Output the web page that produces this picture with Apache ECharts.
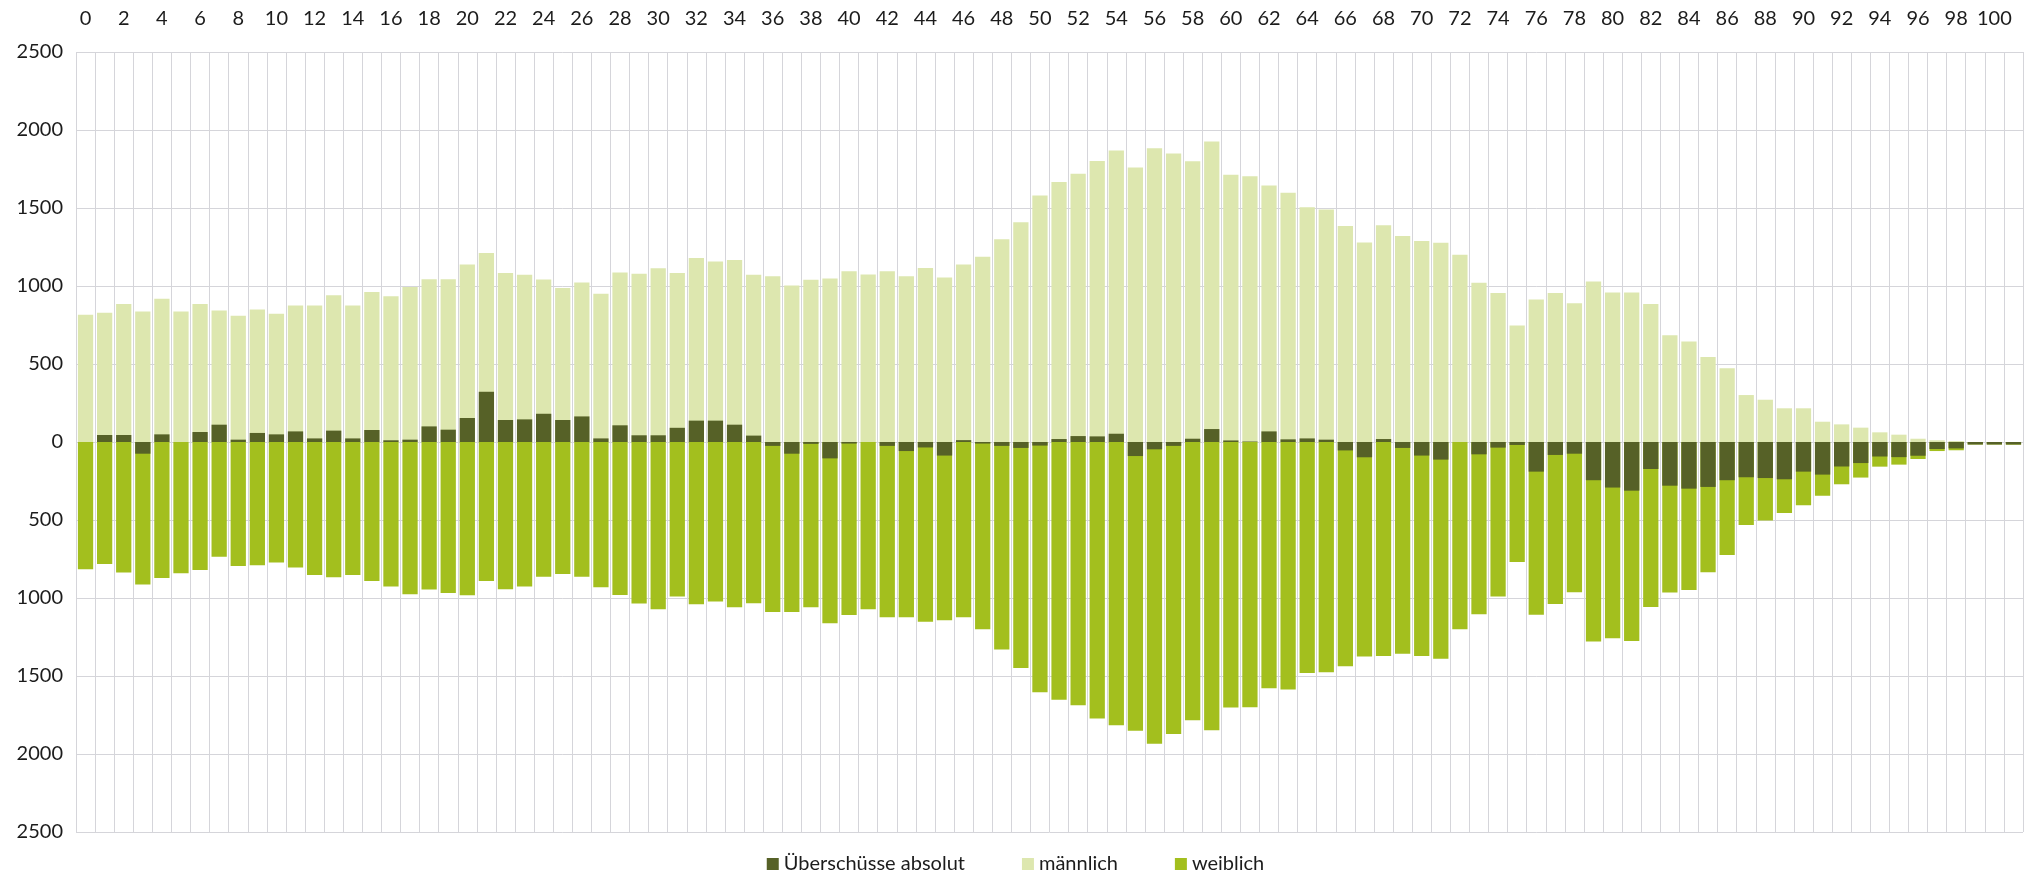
<!DOCTYPE html>
<html>
<head>
<meta charset="utf-8">
<script src="https://cdn.jsdelivr.net/npm/echarts@6/dist/echarts.min.js"></script>
<style>
html,body{margin:0;padding:0;background:#fff;}
#chart{width:2031px;height:874px;}
</style>
</head>
<body>
<div id="chart"></div>
<script>
// Ages 0..101 (labels shown on even ages)
const categories = ["0","1","2","3","4","5","6","7","8","9","10","11","12","13","14","15","16","17","18","19","20","21","22","23","24","25","26","27","28","29","30","31","32","33","34","35","36","37","38","39","40","41","42","43","44","45","46","47","48","49","50","51","52","53","54","55","56","57","58","59","60","61","62","63","64","65","66","67","68","69","70","71","72","73","74","75","76","77","78","79","80","81","82","83","84","85","86","87","88","89","90","91","92","93","94","95","96","97","98","99","100","101"];

const maennlich = [816,829,884,837,918,837,884,843,809,850,822,875,875,940,875,961,935,993,1044,1044,1138,1211,1083,1072,1042,987,1023,950,1087,1078,1113,1083,1179,1157,1166,1072,1063,1004,1040,1048,1095,1074,1095,1063,1115,1055,1138,1187,1300,1409,1580,1666,1719,1802,1868,1760,1883,1849,1800,1926,1713,1704,1644,1597,1505,1490,1384,1279,1390,1320,1288,1277,1200,1021,955,747,914,955,890,1029,959,959,884,685,645,545,472,301,271,216,216,130,113,92,62,47,21,11,6,0,0,0];

const weiblich = [-816,-782,-837,-914,-871,-842,-820,-735,-795,-790,-773,-805,-852,-867,-852,-891,-927,-976,-946,-968,-982,-891,-944,-927,-863,-846,-863,-931,-980,-1036,-1072,-991,-1040,-1023,-1059,-1033,-1089,-1089,-1059,-1162,-1109,-1072,-1123,-1123,-1153,-1142,-1123,-1200,-1330,-1448,-1604,-1653,-1687,-1772,-1815,-1851,-1935,-1871,-1783,-1847,-1702,-1700,-1578,-1587,-1480,-1476,-1437,-1375,-1371,-1358,-1371,-1390,-1200,-1104,-991,-769,-1108,-1038,-963,-1279,-1258,-1275,-1057,-965,-948,-835,-724,-532,-504,-455,-406,-344,-271,-228,-158,-145,-109,-58,-53,-16,-16,-17];

const ueberschuesse = [0,45,45,-75,49,0,64,111,15,58,49,68,23,73,23,77,11,15,100,79,154,322,141,145,181,141,164,23,107,43,43,91,137,137,111,41,-25,-75,-12,-105,-10,0,-25,-58,-35,-87,12,-10,-25,-38,-23,19,38,36,53,-90,-47,-25,21,83,10,3,68,17,23,15,-54,-98,19,-38,-87,-113,0,-79,-36,-19,-190,-83,-75,-245,-292,-312,-173,-280,-299,-288,-245,-226,-231,-239,-190,-209,-157,-135,-93,-97,-88,-45,-41,-16,-16,-16];

const yTicks = {min: -2500, max: 2500, step: 500};

const FONT = 'Lato, "Open Sans", sans-serif';
const TXT = '#1c1c1c';
const GRID = '#d5d5da';

const chart = echarts.init(document.getElementById('chart'), null, {renderer: 'canvas'});
const barCommon = {type: 'bar', barGap: '-100%', barCategoryGap: '20%', animation: false};

chart.setOption({
  animation: false,
  textStyle: {fontFamily: FONT},
  grid: {left: 76, right: 8, top: 52, bottom: 42},
  legend: {
    data: ['Überschüsse absolut', 'männlich', 'weiblich'],
    left: 'center',
    top: 849,
    icon: 'rect',
    itemWidth: 12,
    itemHeight: 12,
    itemGap: 57,
    textStyle: {fontFamily: FONT, fontSize: 20, color: TXT}
  },
  xAxis: {
    type: 'category',
    position: 'top',
    data: categories,
    axisLine: {show: false},
    axisTick: {show: false},
    axisLabel: {interval: 1, fontFamily: FONT, fontSize: 20, color: TXT, margin: 23},
    splitLine: {show: true, interval: 0, lineStyle: {color: GRID, width: 1}}
  },
  yAxis: {
    type: 'value',
    min: yTicks.min,
    max: yTicks.max,
    interval: yTicks.step,
    axisLine: {show: false},
    axisTick: {show: false},
    axisLabel: {fontFamily: FONT, fontSize: 20, color: TXT, margin: 13,
      formatter: v => String(Math.abs(v))},
    splitLine: {show: true, lineStyle: {color: GRID, width: 1}}
  },
  series: [
    Object.assign({}, barCommon, {name: 'männlich', data: maennlich, itemStyle: {color: '#dde7af'}}),
    Object.assign({}, barCommon, {name: 'weiblich', data: weiblich, itemStyle: {color: '#a3bf1e'}}),
    Object.assign({}, barCommon, {name: 'Überschüsse absolut', data: ueberschuesse, itemStyle: {color: '#566127'}})
  ]
});
</script>
</body>
</html>
